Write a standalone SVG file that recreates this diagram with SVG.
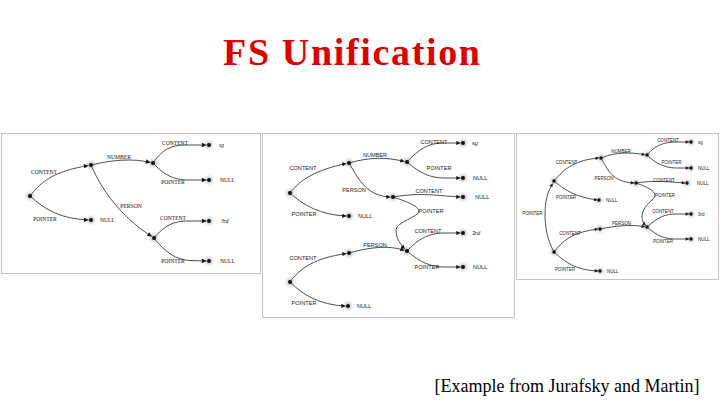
<svg xmlns="http://www.w3.org/2000/svg" width="720" height="405" viewBox="0 0 720 405">
<style>
.frame{fill:#fff;stroke:#c4c4c4;stroke-width:1}
.e{fill:none;stroke:#222;stroke-width:0.8}
.d{fill:#111}
.h{fill:#777;opacity:.45;filter:url(#blur)}
.l1{font-family:"Liberation Serif",serif;font-size:5.6px;fill:#111;text-anchor:middle}
.v1{font-family:"Liberation Serif",serif;font-size:5.6px;fill:#111}
.l2{font-family:"Liberation Sans",Arial,sans-serif;font-size:5.6px;fill:#222;text-anchor:middle}
.v2{font-family:"Liberation Sans",Arial,sans-serif;font-size:5.6px;fill:#222}
.l3{font-family:"Liberation Sans",Arial,sans-serif;font-size:4.5px;fill:#222;text-anchor:middle}
.v3{font-family:"Liberation Sans",Arial,sans-serif;font-size:4.5px;fill:#222}
.it{font-style:italic}
.p1 .e{marker-end:url(#a1)}
.p2 .e{marker-end:url(#a2)}
.p3 .e{marker-end:url(#a3)}
</style>
<defs>
<filter id="blur" x="-1" y="-1" width="3" height="3"><feGaussianBlur stdDeviation="1.4"/></filter>
<marker id="a1" viewBox="0 0 10 10" refX="10" refY="5" markerWidth="6" markerHeight="4.6" orient="auto" markerUnits="userSpaceOnUse"><path d="M0,0 L10,5 L0,10 z" fill="#111"/></marker>
<marker id="a2" viewBox="0 0 10 10" refX="10" refY="5" markerWidth="5.5" markerHeight="4.2" orient="auto" markerUnits="userSpaceOnUse"><path d="M0,0 L10,5 L0,10 z" fill="#111"/></marker>
<marker id="a3" viewBox="0 0 10 10" refX="10" refY="5" markerWidth="4.5" markerHeight="3.5" orient="auto" markerUnits="userSpaceOnUse"><path d="M0,0 L10,5 L0,10 z" fill="#111"/></marker>
</defs>
<rect width="720" height="405" fill="#fff"/>

<text x="351.5" y="65" font-family="'Liberation Serif',serif" font-weight="bold" font-size="38" fill="#e00000" text-anchor="middle" textLength="257" lengthAdjust="spacing">FS Unification</text>
<text x="567" y="392" font-family="'Liberation Serif',serif" font-size="18" fill="#000" text-anchor="middle">[Example from Jurafsky and Martin]</text>

<!-- Panel 1 -->
<g id="panel1" class="p1">
<rect class="frame" x="1.5" y="133.5" width="259" height="140"/>
<g id="p1-connectors">
<path class="e" d="M30,196 C42,180 56,171 88.5,165.5"/>
<path class="e" d="M30,196 C45,210 62,219 88.5,220"/>
<path class="e" d="M91,165 C112,160 132,158 150.5,162.5"/>
<path class="e" d="M91,165 C104,196 128,222 152,236.5"/>
<path class="e" d="M153,163 C162,150 170,145 186,145 L206.5,145"/>
<path class="e" d="M153,163 C164,175 174,180 188,180 L206.5,180"/>
<path class="e" d="M154,238 C165,225 174,221 188,221 L206.5,221"/>
<path class="e" d="M154,238 C165,252 176,260 190,260.5 L206.5,261"/>
<text class="l1" x="44" y="174">CONTENT</text>
<text class="l1" x="45" y="221">POINTER</text>
<text class="l1" x="119" y="159">NUMBER</text>
<text class="l1" x="131" y="208">PERSON</text>
<text class="l1" x="175" y="145">CONTENT</text>
<text class="l1" x="173" y="184">POINTER</text>
<text class="l1" x="173" y="220">CONTENT</text>
<text class="l1" x="173" y="263">POINTER</text>
</g>
<g id="p1-root"><circle class="h" cx="30" cy="196" r="3.5"/><circle class="d" cx="30" cy="196" r="2"/></g>
<g id="p1-content"><circle class="h" cx="91" cy="165" r="3.5"/><circle class="d" cx="91" cy="165" r="2"/></g>
<g id="p1-null1"><circle class="h" cx="91" cy="220" r="3.5"/><circle class="d" cx="91" cy="220" r="2"/><text class="v1" x="100" y="222">NULL</text></g>
<g id="p1-number"><circle class="h" cx="153" cy="163" r="3.5"/><circle class="d" cx="153" cy="163" r="2"/></g>
<g id="p1-person"><circle class="h" cx="154" cy="238" r="3.5"/><circle class="d" cx="154" cy="238" r="2"/></g>
<g id="p1-sg"><circle class="h" cx="209" cy="145" r="3.5"/><circle class="d" cx="209" cy="145" r="2"/><text class="v1 it" x="219" y="147">sg</text></g>
<g id="p1-null2"><circle class="h" cx="209" cy="180" r="3.5"/><circle class="d" cx="209" cy="180" r="2"/><text class="v1" x="220" y="182">NULL</text></g>
<g id="p1-3rd"><circle class="h" cx="209" cy="221" r="3.5"/><circle class="d" cx="209" cy="221" r="2"/><text class="v1 it" x="221" y="223">3rd</text></g>
<g id="p1-null3"><circle class="h" cx="209" cy="261" r="3.5"/><circle class="d" cx="209" cy="261" r="2"/><text class="v1" x="220" y="263">NULL</text></g>
</g>

<!-- Panel 2 -->
<g id="panel2" class="p2">
<rect class="frame" x="262.5" y="133.5" width="252" height="184"/>
<g id="p2-connectors">
<path class="e" d="M290,193 C300,180 315,170 346.5,163.5"/>
<path class="e" d="M290,193 C303,205 320,215 346.5,216"/>
<path class="e" d="M349,163 C370,157 386,157 404.5,161.5"/>
<path class="e" d="M349,163 C360,182 368,196 390.5,197"/>
<path class="e" d="M407,162 C418,150 428,143 442,143 L460.5,143"/>
<path class="e" d="M407,162 C420,173 430,178 444,178 L460.5,178"/>
<path class="e" d="M393,197 C420,192 440,196 460.5,197"/>
<path class="e" d="M393,197 C408,202 418,206 419,211 C419,217 396,222 396,230 C396,238 400,244 405,249"/>
<path class="e" d="M290,282 C300,268 315,258 346.5,253.5"/>
<path class="e" d="M290,282 C303,295 320,305 345.5,306"/>
<path class="e" d="M349,253 C370,247 390,245 404.5,250.5"/>
<path class="e" d="M407,251 C419,238 430,233 444,233 L460.5,233"/>
<path class="e" d="M407,251 C420,262 430,267 444,267 L460.5,267"/>
<text class="l2" x="303" y="170">CONTENT</text>
<text class="l2" x="304" y="216">POINTER</text>
<text class="l2" x="375" y="157">NUMBER</text>
<text class="l2" x="354" y="192">PERSON</text>
<text class="l2" x="434" y="144">CONTENT</text>
<text class="l2" x="439" y="170">POINTER</text>
<text class="l2" x="429" y="193">CONTENT</text>
<text class="l2" x="431" y="213">POINTER</text>
<text class="l2" x="428" y="233">CONTENT</text>
<text class="l2" x="427" y="269">POINTER</text>
<text class="l2" x="303" y="260">CONTENT</text>
<text class="l2" x="375" y="247">PERSON</text>
<text class="l2" x="304" y="305">POINTER</text>
</g>
<g id="p2-root1"><circle class="h" cx="290" cy="193" r="3.5"/><circle class="d" cx="290" cy="193" r="2"/></g>
<g id="p2-content1"><circle class="h" cx="349" cy="163" r="3.5"/><circle class="d" cx="349" cy="163" r="2"/></g>
<g id="p2-null1"><circle class="h" cx="349" cy="216" r="3.5"/><circle class="d" cx="349" cy="216" r="2"/><text class="v2" x="358" y="218">NULL</text></g>
<g id="p2-number"><circle class="h" cx="407" cy="162" r="3.5"/><circle class="d" cx="407" cy="162" r="2"/></g>
<g id="p2-sg"><circle class="h" cx="463" cy="143" r="3.5"/><circle class="d" cx="463" cy="143" r="2"/><text class="v2 it" x="472" y="145">sg</text></g>
<g id="p2-null2"><circle class="h" cx="463" cy="178" r="3.5"/><circle class="d" cx="463" cy="178" r="2"/><text class="v2" x="473" y="180">NULL</text></g>
<g id="p2-person1"><circle class="h" cx="393" cy="197" r="3.5"/><circle class="d" cx="393" cy="197" r="2"/></g>
<g id="p2-null3"><circle class="h" cx="463" cy="197" r="3.5"/><circle class="d" cx="463" cy="197" r="2"/><text class="v2" x="475" y="199">NULL</text></g>
<g id="p2-shared"><circle class="h" cx="407" cy="251" r="3.5"/><circle class="d" cx="407" cy="251" r="2"/></g>
<g id="p2-3rd"><circle class="h" cx="463" cy="233" r="3.5"/><circle class="d" cx="463" cy="233" r="2"/><text class="v2 it" x="472" y="235">3rd</text></g>
<g id="p2-null4"><circle class="h" cx="463" cy="267" r="3.5"/><circle class="d" cx="463" cy="267" r="2"/><text class="v2" x="473" y="269">NULL</text></g>
<g id="p2-root2"><circle class="h" cx="290" cy="282" r="3.5"/><circle class="d" cx="290" cy="282" r="2"/></g>
<g id="p2-content2"><circle class="h" cx="349" cy="253" r="3.5"/><circle class="d" cx="349" cy="253" r="2"/></g>
<g id="p2-null5"><circle class="h" cx="348" cy="306" r="3.5"/><circle class="d" cx="348" cy="306" r="2"/><text class="v2" x="357" y="308">NULL</text></g>
</g>

<!-- Panel 3 -->
<g id="panel3" class="p3">
<rect class="frame" x="516.5" y="133.5" width="202" height="146"/>
<g id="p3-connectors">
<path class="e" d="M554,252 C547,240 545,225 545,215 C545,200 548,191 552.8,183.5"/>
<path class="e" d="M554,181 C565,168 575,160 599,158"/>
<path class="e" d="M554,181 C565,190 575,197 597.5,200"/>
<path class="e" d="M601,158 C615,152 630,152 645.2,154.8"/>
<path class="e" d="M601,158 C608,170 612,182 634.2,183"/>
<path class="e" d="M647,155 C655,145 665,142 676,142 L689.2,142"/>
<path class="e" d="M647,155 C655,163 665,168 676,168 L689.2,168"/>
<path class="e" d="M636,183 C655,180 670,182 685.2,183"/>
<path class="e" d="M636,183 C650,188 660,193 652,200 C640,210 640,220 645.8,225.6"/>
<path class="e" d="M647,227 C658,217 665,214 676,214 L689.2,214"/>
<path class="e" d="M647,227 C657,236 665,239 676,239 L689.2,239"/>
<path class="e" d="M554,252 C565,238 575,232 598.2,229"/>
<path class="e" d="M600,229 C615,226 630,224 645.2,226.8"/>
<path class="e" d="M554,252 C565,262 575,270 598.2,271"/>
<text class="l3" x="532.5" y="214.5">POINTER</text>
<text class="l3" x="566.5" y="163.5">CONTENT</text>
<text class="l3" x="566" y="198.5">POINTER</text>
<text class="l3" x="621" y="152.5">NUMBER</text>
<text class="l3" x="668" y="141.5">CONTENT</text>
<text class="l3" x="671.5" y="163.5">POINTER</text>
<text class="l3" x="604" y="179.5">PERSON</text>
<text class="l3" x="664" y="181.5">CONTENT</text>
<text class="l3" x="665" y="196.5">POINTER</text>
<text class="l3" x="663" y="212.5">CONTENT</text>
<text class="l3" x="663" y="242.5">POINTER</text>
<text class="l3" x="570" y="234.5">CONTENT</text>
<text class="l3" x="621.5" y="224.5">PERSON</text>
<text class="l3" x="565" y="270.5">POINTER</text>
</g>
<g id="p3-x"><circle class="h" cx="554" cy="181" r="3"/><circle class="d" cx="554" cy="181" r="1.7"/></g>
<g id="p3-y"><circle class="h" cx="554" cy="252" r="3"/><circle class="d" cx="554" cy="252" r="1.7"/></g>
<g id="p3-content1"><circle class="h" cx="601" cy="158" r="3"/><circle class="d" cx="601" cy="158" r="1.7"/></g>
<g id="p3-null1"><circle class="h" cx="599" cy="200" r="3"/><circle class="d" cx="599" cy="200" r="1.7"/><text class="v3" x="606" y="201.5">NULL</text></g>
<g id="p3-number"><circle class="h" cx="647" cy="155" r="3"/><circle class="d" cx="647" cy="155" r="1.7"/></g>
<g id="p3-sg"><circle class="h" cx="691" cy="142" r="3"/><circle class="d" cx="691" cy="142" r="1.7"/><text class="v3" x="698" y="143.5">sg</text></g>
<g id="p3-null2"><circle class="h" cx="691" cy="168" r="3"/><circle class="d" cx="691" cy="168" r="1.7"/><text class="v3" x="698" y="169.5">NULL</text></g>
<g id="p3-person1"><circle class="h" cx="636" cy="183" r="3"/><circle class="d" cx="636" cy="183" r="1.7"/></g>
<g id="p3-null3"><circle class="h" cx="687" cy="183" r="3"/><circle class="d" cx="687" cy="183" r="1.7"/><text class="v3" x="697" y="184.5">NULL</text></g>
<g id="p3-shared"><circle class="h" cx="647" cy="227" r="3"/><circle class="d" cx="647" cy="227" r="1.7"/></g>
<g id="p3-3rd"><circle class="h" cx="691" cy="214" r="3"/><circle class="d" cx="691" cy="214" r="1.7"/><text class="v3" x="698" y="215.5">3rd</text></g>
<g id="p3-null4"><circle class="h" cx="691" cy="239" r="3"/><circle class="d" cx="691" cy="239" r="1.7"/><text class="v3" x="698" y="240.5">NULL</text></g>
<g id="p3-content2"><circle class="h" cx="600" cy="229" r="3"/><circle class="d" cx="600" cy="229" r="1.7"/></g>
<g id="p3-null5"><circle class="h" cx="600" cy="271" r="3"/><circle class="d" cx="600" cy="271" r="1.7"/><text class="v3" x="607" y="272.5">NULL</text></g>
</g>
</svg>
